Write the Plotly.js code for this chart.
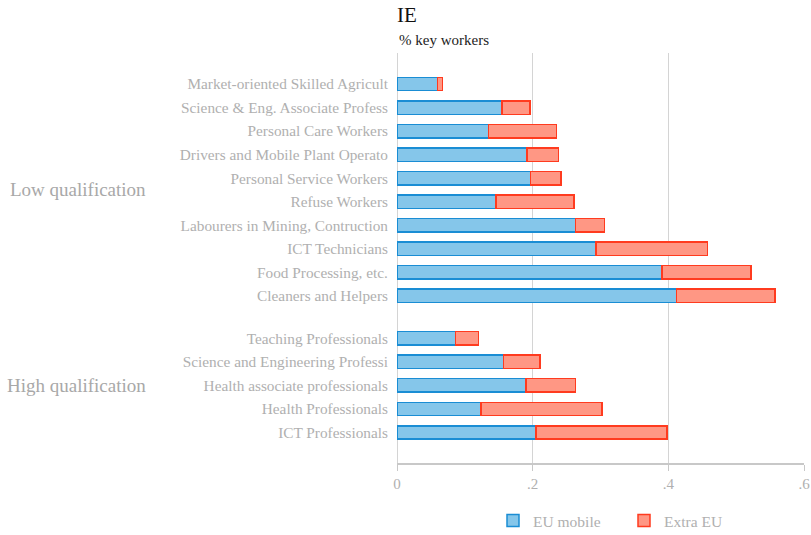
<!DOCTYPE html>
<html>
<head>
<meta charset="utf-8">
<script src="https://cdn.plot.ly/plotly-3.0.1.min.js"></script>
<style>html,body{margin:0;padding:0;background:#fff;}#chart{width:811px;height:535px;}</style>
</head>
<body>
<div id="chart"></div>
<script>
// ---- data ----
var lowCategories = ['Market-oriented Skilled Agricult', 'Science & Eng. Associate Profess', 'Personal Care Workers', 'Drivers and Mobile Plant Operato', 'Personal Service Workers', 'Refuse Workers', 'Labourers in Mining, Contruction', 'ICT Technicians', 'Food Processing, etc.', 'Cleaners and Helpers'];
var lowEUmobile = [0.060, 0.155, 0.135, 0.192, 0.197, 0.146, 0.263, 0.293, 0.391, 0.412];
var lowExtraEU  = [0.007, 0.041, 0.100, 0.046, 0.045, 0.115, 0.043, 0.165, 0.131, 0.145];

var highCategories = ['Teaching Professionals', 'Science and Engineering Professi', 'Health associate professionals', 'Health Professionals', 'ICT Professionals'];
var highEUmobile = [0.086, 0.157, 0.190, 0.124, 0.205];
var highExtraEU  = [0.034, 0.054, 0.073, 0.178, 0.193];

var groupNames = ['Low qualification', 'High qualification'];
var seriesNames = ['EU mobile', 'Extra EU'];
var xTickVals = [0, 0.2, 0.4, 0.6];
var xTickText = ['0', '.2', '.4', '.6'];
var chartTitle = 'IE';
var chartSubtitle = '% key workers';

// ---- layout helpers (positions computed, not data) ----
var groupGap = 1.8;
var lowPos = lowCategories.map(function (_, i) { return i; });
var highStart = lowCategories.length - 1 + groupGap;
var highPos = highCategories.map(function (_, i) { return highStart + i; });

var allPos = lowPos.concat(highPos);
var allCats = lowCategories.concat(highCategories);
var allEU = lowEUmobile.concat(highEUmobile);
var allExtra = lowExtraEU.concat(highExtraEU);

var FONT = 'Liberation Serif, Times New Roman, serif';
var barWidth = 0.57;

var traces = [
  {
    type: 'bar', orientation: 'h', name: seriesNames[0],
    x: allEU, y: allPos, width: barWidth,
    marker: { color: '#85c6ea', line: { color: '#1a8dd4', width: 1.5 } },
    hoverinfo: 'x+name'
  },
  {
    type: 'bar', orientation: 'h', name: seriesNames[1],
    x: allExtra, y: allPos, width: barWidth,
    marker: { color: '#ff9784', line: { color: '#ff3b1f', width: 1.5 } },
    hoverinfo: 'x+name'
  }
];

function mid(arr) { return (arr[0] + arr[arr.length - 1]) / 2; }

var plotTop = 53, plotBottom = 463, plotLeft = 397, plotRight = 804;
var plotH = plotBottom - plotTop, plotW = plotRight - plotLeft;

var layout = {
  width: 811, height: 535,
  margin: { l: plotLeft, r: 811 - plotRight, t: plotTop, b: 535 - plotBottom, pad: 0 },
  paper_bgcolor: '#ffffff', plot_bgcolor: '#ffffff',
  barmode: 'stack',
  font: { family: FONT, color: '#b0b0b0', size: 14 },
  title: {
    text: chartTitle,
    font: { family: FONT, size: 21, color: '#111111' },
    x: plotLeft / 811, xanchor: 'left', xref: 'container',
    y: 1 - 15 / 535, yanchor: 'middle', yref: 'container'
  },
  xaxis: {
    range: [0, 0.6], tickvals: xTickVals, ticktext: xTickText,
    showgrid: true, gridcolor: '#d4d4d4', gridwidth: 1,
    zeroline: true, zerolinecolor: '#d4d4d4', zerolinewidth: 1,
    showline: true, linecolor: '#c8c8c8', linewidth: 2,
    ticks: 'outside', ticklen: 6, tickcolor: '#c8c8c8', tickwidth: 1,
    tickfont: { family: FONT, size: 15, color: '#b0b0b0' },
    fixedrange: true
  },
  yaxis: {
    range: [highPos[highPos.length - 1] + 1.295, -1.316],
    tickvals: allPos, ticktext: allCats,
    showgrid: false, zeroline: false, showline: false,
    ticks: 'outside', ticklen: 5, tickcolor: 'rgba(0,0,0,0)',
    tickfont: { family: FONT, size: 15.3, color: '#b0b0b0' },
    fixedrange: true
  },
  showlegend: true,
  legend: {
    orientation: 'h', x: 493 / 811, xanchor: 'left', xref: 'container',
    y: 1 - 521 / 535, yanchor: 'middle', yref: 'container',
    entrywidth: 86, entrywidthmode: 'pixels',
    font: { family: FONT, size: 15.5, color: '#b0b0b0' },
    traceorder: 'normal', itemclick: false
  },
  annotations: [
    {
      text: chartSubtitle, xref: 'paper', x: 0, xanchor: 'left',
      yref: 'paper', y: (plotBottom - 40) / plotH, yanchor: 'middle', showarrow: false,
      font: { family: FONT, size: 15, color: '#222222' }
    },
    {
      text: groupNames[0], xref: 'paper', x: (148 - plotLeft) / plotW, xanchor: 'right',
      yref: 'y', y: mid(lowPos), yanchor: 'middle', showarrow: false,
      font: { family: FONT, size: 19, color: '#a8a8a8' }
    },
    {
      text: groupNames[1], xref: 'paper', x: (148 - plotLeft) / plotW, xanchor: 'right',
      yref: 'y', y: mid(highPos), yanchor: 'middle', showarrow: false,
      font: { family: FONT, size: 19, color: '#a8a8a8' }
    }
  ]
};

Plotly.newPlot('chart', traces, layout, { displayModeBar: false, staticPlot: true });
</script>
</body>
</html>
